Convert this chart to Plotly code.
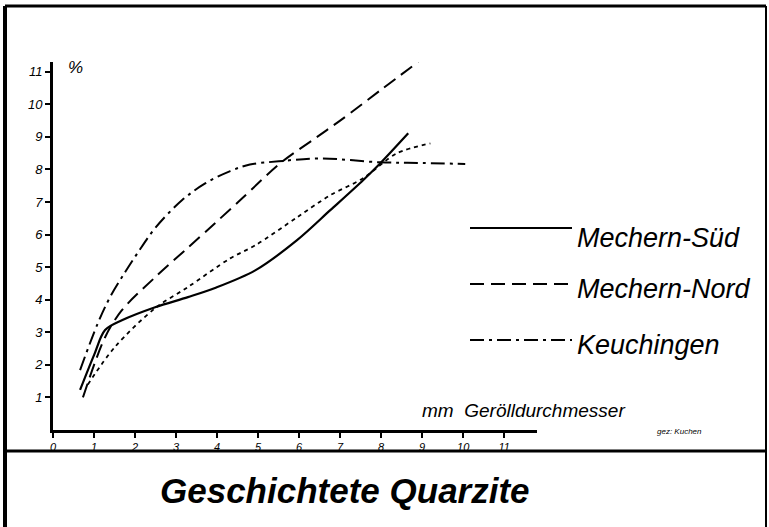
import plotly.graph_objects as go

# ---- data ----
sud_x = [0.66, 1.0, 1.27, 1.68, 2.49, 3.29, 3.95, 4.93, 5.95, 6.76, 7.56, 7.98, 8.66]
sud_y = [1.23, 2.3, 3.07, 3.37, 3.77, 4.08, 4.36, 4.9, 5.83, 6.75, 7.67, 8.19, 9.11]

nord_x = [0.73, 1.27, 1.68, 2.49, 3.29, 3.95, 4.6, 5.54, 6.44, 7.0, 8.0, 8.9]
nord_y = [1.0, 2.85, 3.68, 4.69, 5.6, 6.35, 7.1, 8.19, 9.0, 9.5, 10.45, 11.3]

keu_x = [0.66, 1.1, 1.4, 1.76, 2.07, 2.49, 3.15, 3.71, 4.32, 4.8, 5.5, 6.5, 7.98, 9.0, 10.05]
keu_y = [1.84, 3.3, 4.1, 4.85, 5.45, 6.2, 7.06, 7.57, 7.95, 8.15, 8.25, 8.34, 8.22, 8.2, 8.17]

dot_x = [0.85, 1.51, 2.49, 3.29, 4.32, 4.93, 5.95, 6.76, 7.56, 8.39, 9.2]
dot_y = [1.4, 2.55, 3.74, 4.39, 5.27, 5.67, 6.53, 7.21, 7.73, 8.5, 8.8]

x_ticks = [0, 1, 2, 3, 4, 5, 6, 7, 8, 9, 10, 11]
y_ticks = [1, 2, 3, 4, 5, 6, 7, 8, 9, 10, 11]

series_names = ["Mechern-Süd", "Mechern-Nord", "Keuchingen"]
title_text = "Geschichtete Quarzite"
x_label = "mm  Gerölldurchmesser"
y_label = "%"
signature = "gez: Kuchen"

# ---- layout geometry (pixels) ----
W, H = 769, 527
L, R, T, B = 53, 537, 62, 430


def px(x):
    return (x - L) / (R - L)


def py(y):
    return (B - y) / (B - T)


FONT = "Liberation Sans, DejaVu Sans, sans-serif"

fig = go.Figure()
common = dict(mode="lines", line_shape="spline", showlegend=False, hoverinfo="skip")
fig.add_trace(go.Scatter(x=sud_x, y=sud_y, line=dict(color="black", width=2.2, smoothing=0.9), **common))
fig.add_trace(go.Scatter(x=nord_x, y=nord_y, line=dict(color="black", width=2.0, dash="14px,7px", smoothing=0.9), **common))
fig.add_trace(go.Scatter(x=keu_x, y=keu_y, line=dict(color="black", width=2.0, dash="14px,5px,3px,5px", smoothing=1.0), **common))
fig.add_trace(go.Scatter(x=dot_x, y=dot_y, line=dict(color="black", width=1.8, dash="4px,4px", smoothing=0.9), **common))

shapes = []
# outer frame
for (x0, y0, x1, y1, w) in [
    (5, 6, 5, 527, 4), (766, 6, 766, 527, 2), (5, 6, 766, 6, 3), (5, 451, 766, 451, 3),
]:
    shapes.append(dict(type="line", xref="paper", yref="paper", x0=px(x0), y0=py(y0), x1=px(x1), y1=py(y1),
                       line=dict(color="black", width=w)))
# legend samples
leg_y = [228, 284, 340]
dashes = ["solid", "14px,7px", "14px,5px,3px,5px"]
for yy, d in zip(leg_y, dashes):
    shapes.append(dict(type="line", xref="paper", yref="paper", x0=px(470), y0=py(yy), x1=px(572), y1=py(yy),
                       line=dict(color="black", width=2.2, dash=d)))

annotations = []
for name, yy in zip(series_names, [238, 289, 345]):
    annotations.append(dict(xref="paper", yref="paper", x=px(575), y=py(yy), text=name, showarrow=False,
                            xanchor="left", yanchor="middle",
                            font=dict(family=FONT, size=27, color="black", style="italic")))
annotations.append(dict(xref="paper", yref="paper", x=px(345), y=py(490), text=title_text, showarrow=False,
                        xanchor="center", yanchor="middle",
                        font=dict(family=FONT, size=35, color="black", style="italic", weight="bold")))
annotations.append(dict(xref="paper", yref="paper", x=px(420), y=py(410), text=x_label, showarrow=False,
                        xanchor="left", yanchor="middle",
                        font=dict(family=FONT, size=19, color="black", style="italic")))
annotations.append(dict(xref="paper", yref="paper", x=px(66), y=py(68), text=y_label, showarrow=False,
                        xanchor="left", yanchor="middle",
                        font=dict(family=FONT, size=17, color="black", style="italic")))
annotations.append(dict(xref="paper", yref="paper", x=px(655), y=py(432), text=signature, showarrow=False,
                        xanchor="left", yanchor="middle",
                        font=dict(family=FONT, size=8, color="black", style="italic")))

fig.update_layout(
    width=W, height=H,
    margin=dict(l=L, r=W - R, t=T, b=H - B, pad=0),
    paper_bgcolor="white", plot_bgcolor="white",
    shapes=shapes, annotations=annotations,
    xaxis=dict(range=[0, 11.8], tickvals=x_ticks, ticktext=[str(v) for v in x_ticks],
               showgrid=False, zeroline=False, showline=True, linecolor="black", linewidth=3,
               ticks="outside", ticklen=5, tickwidth=2, tickcolor="black",
               tickfont=dict(family=FONT, size=11, color="black", style="italic")),
    yaxis=dict(range=[0, 11.3], tickvals=y_ticks, ticktext=[str(v) for v in y_ticks],
               showgrid=False, zeroline=False, showline=True, linecolor="black", linewidth=3,
               ticks="outside", ticklen=5, tickwidth=2, tickcolor="black",
               tickfont=dict(family=FONT, size=13, color="black", style="italic")),
)

fig.write_html("out.html", config={"displayModeBar": False},
               post_script="document.body.style.margin='0px';")
